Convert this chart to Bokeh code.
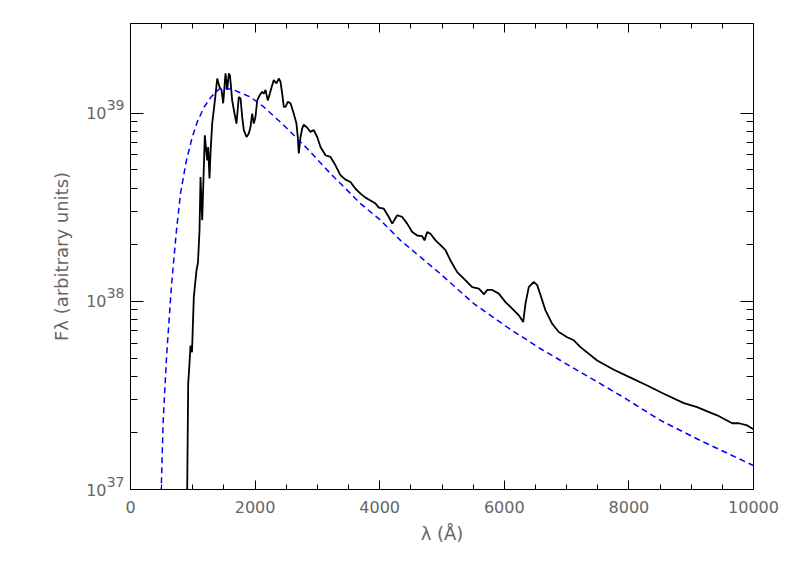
import math
from bokeh.plotting import figure
from bokeh.models import Range1d, FixedTicker, LinearAxis, LogAxis, BasicTickFormatter
from bokeh.embed import file_html
from bokeh.resources import INLINE

# ---- data ----
wave_obs = [907, 910, 926, 947, 963, 987, 1016, 1059, 1083, 1108, 1124, 1151, 1193, 1231, 1247,
            1268, 1284, 1311, 1337, 1364, 1392, 1429, 1461, 1488, 1525, 1552, 1578, 1597, 1632,
            1669, 1701, 1738, 1766, 1793, 1819, 1862, 1899, 1926, 1953, 1979, 2006, 2034, 2075,
            2114, 2140, 2167, 2204, 2236, 2274, 2300, 2343, 2380, 2408, 2435, 2461, 2488, 2525,
            2568, 2621, 2664, 2685, 2701, 2729, 2756, 2782, 2836, 2889, 2942, 2997, 3050, 3130,
            3210, 3290, 3371, 3451, 3531, 3611, 3692, 3772, 3852, 3933, 3986, 4066, 4146, 4201,
            4281, 4361, 4441, 4522, 4602, 4682, 4719, 4762, 4815, 4896, 4976, 5056, 5136, 5244,
            5350, 5485, 5591, 5645, 5671, 5725, 5806, 5912, 6019, 6127, 6233, 6303, 6340, 6393,
            6473, 6528, 6581, 6661, 6769, 6875, 7009, 7116, 7223, 7491, 7758, 8026, 8294, 8560,
            8881, 9096, 9257, 9417, 9658, 9764, 9899, 10000]
flux_obs = [6.8e36, 1.0e37, 3.66e37, 4.68e37, 5.83e37, 5.36e37, 1.05e38, 1.46e38, 1.61e38, 2.39e38,
            4.58e38, 2.70e38, 7.64e38, 5.62e38, 6.62e38, 4.50e38, 6.11e38, 8.81e38, 1.04e39,
            1.25e39, 1.53e39, 1.38e39, 1.33e39, 1.13e39, 1.63e39, 1.33e39, 1.63e39, 1.59e39,
            1.17e39, 1.0e39, 8.81e38, 1.22e39, 1.20e39, 9.55e38, 8.13e38, 7.48e38, 7.80e38,
            8.45e38, 9.95e38, 8.81e38, 9.55e38, 1.17e39, 1.25e39, 1.30e39, 1.27e39, 1.33e39,
            1.17e39, 1.27e39, 1.41e39, 1.50e39, 1.44e39, 1.53e39, 1.47e39, 1.27e39, 1.08e39,
            1.08e39, 1.15e39, 1.13e39, 9.95e38, 8.81e38, 7.48e38, 6.11e38, 7.48e38, 8.30e38,
            8.69e38, 8.38e38, 7.96e38, 8.13e38, 7.48e38, 6.62e38, 5.98e38, 5.86e38, 5.29e38,
            4.68e38, 4.44e38, 4.31e38, 3.97e38, 3.74e38, 3.56e38, 3.44e38, 3.31e38, 3.15e38,
            3.11e38, 2.81e38, 2.59e38, 2.87e38, 2.81e38, 2.59e38, 2.34e38, 2.24e38, 2.22e38,
            2.11e38, 2.34e38, 2.29e38, 2.11e38, 1.99e38, 1.87e38, 1.65e38, 1.43e38, 1.32e38,
            1.19e38, 1.17e38, 1.12e38, 1.09e38, 1.15e38, 1.15e38, 1.10e38, 9.91e37, 9.14e37,
            8.43e37, 7.76e37, 9.73e37, 1.19e38, 1.27e38, 1.22e38, 1.08e38, 8.96e37, 7.60e37,
            6.87e37, 6.45e37, 6.21e37, 5.71e37, 4.85e37, 4.33e37, 3.93e37, 3.57e37, 3.23e37,
            2.88e37, 2.74e37, 2.60e37, 2.48e37, 2.25e37, 2.25e37, 2.19e37, 2.09e37]

wave_bb = [450, 493, 525, 578, 658, 738, 803, 891, 990, 1075, 1183, 1292, 1429, 1520, 1658, 1926,
           2140, 2461, 2836, 3210, 3371, 3692, 4013, 4334, 4976, 5510, 6046, 6581, 7865, 8507,
           9149, 9979, 10000]
flux_bb = [0.75e37, 1.0e37, 2.33e37, 5.04e37, 1.22e38, 2.39e38, 3.75e38, 5.48e38, 7.45e38, 9.06e38,
           1.08e39, 1.22e39, 1.35e39, 1.36e39, 1.33e39, 1.22e39, 1.08e39, 8.63e38, 6.49e38,
           4.78e38, 4.23e38, 3.31e38, 2.70e38, 2.11e38, 1.40e38, 9.73e37, 7.29e37, 5.60e37,
           3.16e37, 2.33e37, 1.82e37, 1.35e37, 1.34e37]

x_major = [0, 2000, 4000, 6000, 8000, 10000]
x_minor = [500, 1000, 1500, 2500, 3000, 3500, 4500, 5000, 5500, 6500, 7000, 7500, 8500, 9000, 9500]
y_major = [1e37, 1e38, 1e39]
y_base_label = "10"
y_minor = [2e37, 3e37, 4e37, 5e37, 6e37, 7e37, 8e37, 9e37,
           2e38, 3e38, 4e38, 5e38, 6e38, 7e38, 8e38, 9e38]
y_top = 3e39
x_title = "λ (Å)"
y_title = "Fλ (arbitrary units)"

FONT = "DejaVu Sans"
GRAY = "#666666"

p = figure(width=781, height=573,
           x_range=Range1d(x_major[0], x_major[-1]),
           y_range=Range1d(y_major[0], y_top),
           y_axis_type="log", output_backend="svg", toolbar_location=None,
           min_border_left=130, min_border_right=28, min_border_top=23, min_border_bottom=84)
p.grid.visible = False
p.outline_line_color = "black"
p.outline_line_width = 1
p.background_fill_color = "white"
p.border_fill_color = "white"

xb = p.xaxis[0]
yl = p.yaxis[0]          # inner left axis: ticks + exponent labels
xt = LinearAxis()
yr = LogAxis()
ybase = LogAxis()        # outer left axis: the "10" of each label + title
p.add_layout(xt, "above")
p.add_layout(yr, "right")
p.add_layout(ybase, "left")

for ax in (xb, xt):
    ax.ticker = FixedTicker(ticks=x_major, minor_ticks=x_minor)
    ax.major_tick_in = 9
    ax.major_tick_out = 0
    ax.minor_tick_in = 5
    ax.minor_tick_out = 0
for ax in (yl, yr):
    ax.ticker = FixedTicker(ticks=y_major, minor_ticks=y_minor)
    ax.formatter = BasicTickFormatter()
    ax.major_tick_in = 13
    ax.major_tick_out = 0
    ax.minor_tick_in = 7
    ax.minor_tick_out = 0
for ax in (xb, xt, yl, yr):
    ax.axis_line_color = "black"
    ax.major_tick_line_color = "black"
    ax.minor_tick_line_color = "black"
    ax.axis_line_width = 1
for ax in (xt, yr):
    # tick marks only on the top and right sides
    ax.major_label_text_font_size = "0px"
    ax.major_label_text_color = None
    ax.major_label_standoff = 0

xb.formatter = BasicTickFormatter(use_scientific=False)
xb.major_label_text_font = FONT
xb.major_label_text_font_size = "16px"
xb.major_label_text_color = GRAY
xb.major_label_standoff = 11
xb.axis_label = x_title
xb.axis_label_text_font = FONT
xb.axis_label_text_font_size = "18px"
xb.axis_label_text_font_style = "normal"
xb.axis_label_text_color = GRAY
xb.axis_label_standoff = 7

# exponents (superscript part) next to the frame; the empty second line lifts them
yl.major_label_overrides = {v: str(int(round(math.log10(v)))) + "\n " for v in y_major}
yl.major_label_text_font = FONT
yl.major_label_text_font_size = "14px"
yl.major_label_text_line_height = 1.0
yl.major_label_text_color = GRAY
yl.major_label_standoff = 6

# the "10" part further out
ybase.ticker = FixedTicker(ticks=y_major, minor_ticks=[])
ybase.formatter = BasicTickFormatter()
ybase.major_label_overrides = {v: y_base_label for v in y_major}
ybase.axis_line_color = None
ybase.major_tick_line_color = None
ybase.minor_tick_line_color = None
ybase.major_tick_in = 0
ybase.major_tick_out = 0
ybase.minor_tick_in = 0
ybase.minor_tick_out = 0
ybase.major_label_text_font = FONT
ybase.major_label_text_font_size = "16px"
ybase.major_label_text_color = GRAY
ybase.major_label_standoff = -3
ybase.axis_label = y_title
ybase.axis_label_text_font = FONT
ybase.axis_label_text_font_size = "18px"
ybase.axis_label_text_font_style = "normal"
ybase.axis_label_text_color = GRAY
ybase.axis_label_standoff = 11

# spectrum and dashed reference curve
p.line(wave_obs, flux_obs, line_color="black", line_width=1.8)
p.line(wave_bb, flux_bb, line_color="#0000ff", line_width=1.5, line_dash="6 4")

open("out.html", "w").write(file_html(p, INLINE))
